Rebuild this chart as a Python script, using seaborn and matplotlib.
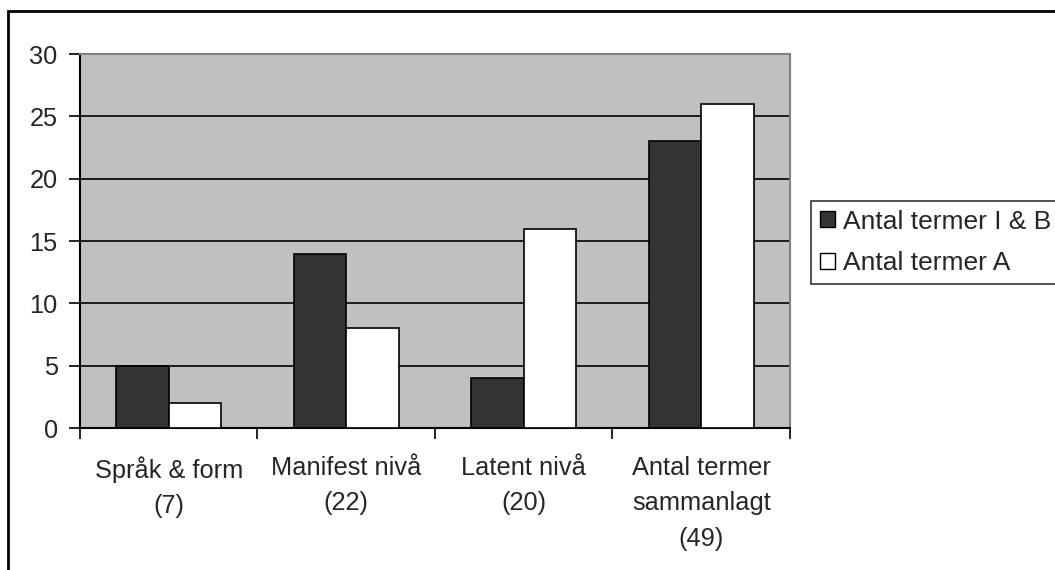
import pandas as pd
import numpy as np
import matplotlib.pyplot as plt
import matplotlib.patches as mpatches
import seaborn as sns

categories = ['Språk & form\n(7)', 'Manifest nivå\n(22)', 'Latent nivå\n(20)',
              'Antal termer\nsammanlagt\n(49)']
series_names = ['Antal termer I & B', 'Antal termer A']
values_ib = [5, 14, 4, 23]
values_a = [2, 8, 16, 26]

df = pd.DataFrame({
    'Kategori': categories * 2,
    'Serie': [series_names[0]] * 4 + [series_names[1]] * 4,
    'Antal': values_ib + values_a,
})

sns.set_style('white')
plt.rcParams['font.family'] = ['Liberation Sans', 'DejaVu Sans']

fig = plt.figure(figsize=(10.55, 5.7), dpi=100)
ax = fig.add_axes([0.0758, 0.249, 0.673, 0.656])
ax.set_facecolor('#c0c0c0')

sns.barplot(data=df, x='Kategori', y='Antal', hue='Serie', ax=ax,
            palette=['#333333', '#ffffff'], edgecolor='black', linewidth=1.2,
            width=0.59, gap=0, dodge=True, zorder=3)

ax.set_ylim(0, 30)
ax.set_yticks(np.arange(0, 31, 5))
ax.set_xlim(-0.5, 3.5)
ax.yaxis.grid(True, color='black', linewidth=1.2, zorder=1)
ax.set_axisbelow(True)
ax.set_xlabel('')
ax.set_ylabel('')

# category ticks sit at the borders between groups
ax.set_xticks(np.arange(-0.5, 4, 1), minor=False)
ax.set_xticklabels([])
ax.set_xticks(np.arange(0, 4), minor=True)
ax.set_xticklabels(categories, minor=True, fontsize=18.3, linespacing=1.6)
ax.tick_params(axis='x', which='major', direction='out', length=8, width=1.2,
               color='black', bottom=True)
ax.tick_params(axis='x', which='minor', length=0, pad=20)
ax.tick_params(axis='y', direction='out', length=8, width=1.2, color='black',
               left=True, labelsize=18.3, pad=8)

for side in ['left', 'bottom']:
    ax.spines[side].set_color('black')
    ax.spines[side].set_linewidth(1.5)
for side in ['top', 'right']:
    ax.spines[side].set_color('#808080')
    ax.spines[side].set_linewidth(1.5)

handles = [mpatches.Patch(facecolor='#333333', edgecolor='black', label=series_names[0]),
           mpatches.Patch(facecolor='white', edgecolor='black', label=series_names[1])]
ax.get_legend().remove()
leg = fig.legend(handles=handles, loc='center left', bbox_to_anchor=(0.769, 0.575),
                 fontsize=19, frameon=True, fancybox=False, edgecolor='black',
                 handlelength=0.57, handleheight=0.57, handletextpad=0.3,
                 borderpad=0.34, labelspacing=0.66, borderaxespad=0)
leg.get_frame().set_linewidth(1.2)

# outer frame of the chart area
fig.patches.append(mpatches.Rectangle((8 / 1055, -0.05), 1.1, 0.981 + 0.05,
                                      transform=fig.transFigure, fill=False,
                                      edgecolor='black', linewidth=2))

fig.savefig('out.png', dpi=100)
